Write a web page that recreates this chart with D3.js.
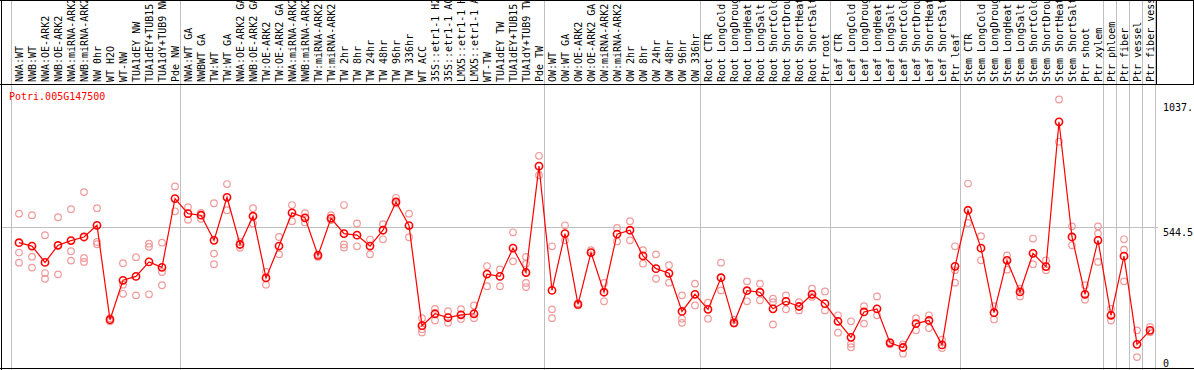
<!DOCTYPE html>
<html>
<head>
<meta charset="utf-8">
<script src="https://cdn.jsdelivr.net/npm/d3@7"></script>
<style>
  body { margin: 0; background: #fff; }
  svg { display: block; }
  text { font-family: "DejaVu Sans Mono", monospace; font-size: 10px; }
</style>
</head>
<body>
<svg id="chart" width="1194" height="370"></svg>
<script>
// sample labels, left to right
const categories = [
  "NWA:WT", "NWB:WT", "NWA:OE-ARK2", "NWB:OE-ARK2", "NWA:miRNA-ARK2", "NWB:miRNA-ARK2",
  "NW 0hr", "WT H2O", "WT-NW", "TUA1dEY NW", "TUA1dEY+TUB15 NW", "TUA1dY+TUB9 NW", "Pde NW",
  "NWA:WT GA", "NWBWT GA", "TW:WT", "TW:WT GA", "NWA:OE-ARK2 GA", "NWB:OE-ARK2 GA",
  "TW:OE-ARK2", "TW:OE-ARK2 GA", "NWA:miRNA-ARK2", "NWB:miRNA-ARK2", "TW:miRNA-ARK2",
  "TW:miRNA-ARK2", "TW 2hr", "TW 8hr", "TW 24hr", "TW 48hr", "TW 96hr", "TW 336hr",
  "WT ACC", "35S::etr1-1 H2O", "35S::etr1-1 ACC", "LMX5::etr1-1 H2O", "LMX5::etr1-1 ACC",
  "WT-TW", "TUA1dEY TW", "TUA1dEY+TUB15 TW", "TUA1dY+TUB9 TW", "Pde TW",
  "OW:WT", "OW:WT GA", "OW:OE-ARK2", "OW:OE-ARK2 GA", "OW:miRNA-ARK2", "OW:miRNA-ARK2",
  "OW 2hr", "OW 8hr", "OW 24hr", "OW 48hr", "OW 96hr", "OW 336hr",
  "Root CTR", "Root LongCold", "Root LongDrought", "Root LongHeat", "Root LongSalt",
  "Root ShortCold", "Root ShortDrought", "Root ShortHeat", "Root ShortSalt", "Ptr root",
  "Leaf CTR", "Leaf LongCold", "Leaf LongDrought", "Leaf LongHeat", "Leaf LongSalt",
  "Leaf ShortCold", "Leaf ShortDrought", "Leaf ShortHeat", "Leaf ShortSalt", "Ptr leaf",
  "Stem CTR", "Stem LongCold", "Stem LongDrought", "Stem LongHeat", "Stem LongSalt",
  "Stem ShortCold", "Stem ShortDrought", "Stem ShortHeat", "Stem ShortSalt", "Ptr shoot",
  "Ptr xylem", "Ptr phloem", "Ptr fiber", "Ptr vessel", "Ptr fiber vessel"
];

// index of the first sample of each experiment group (last = end)
const groupStarts = [0, 13, 41, 53, 63, 73, 84, 85, 86, 87, 88];

// mean expression per sample
const means = [
  485, 472, 409, 475, 493, 507, 552, 188, 340, 355, 411, 390, 655,
  597, 591, 494, 660, 478, 587, 349, 472, 600, 581, 436, 579, 520, 514, 472, 533, 642,
  551, 165, 211, 196, 207, 211, 364, 355, 464, 370, 780,
  301, 520, 247, 447, 294, 518, 533, 434, 385, 367, 220,
  286, 228, 350, 176, 300, 294, 230, 259, 239, 286,
  250, 182, 120, 218, 230, 99, 81, 173, 185, 91,
  394, 610, 464, 215, 417, 295, 444, 393, 951, 507, 286,
  494, 205, 433, 93, 147
];

// replicate values per sample
const replicates = [
  [597, 447, 408], [591, 431, 389], [514, 368, 346], [583, 475, 363], [614, 452, 416],
  [680, 426, 411], [618, 488, 479], [194, 182], [406, 323, 288], [429, 282],
  [481, 469, 286], [485, 372, 321], [702, 606],
  [622, 573], [600, 577], [637, 443, 402], [711, 610], [488, 465], [618, 559],
  [372, 323], [507, 440], [630, 568], [599, 563], [440, 430], [591, 572],
  [630, 478, 466], [559, 471], [497, 440], [556, 498], [658, 636], [597, 506],
  [194, 151, 139], [230, 185], [221, 176], [229, 191], [243, 194],
  [395, 317], [382, 317], [525, 413], [430, 404, 330, 314], [820, 745],
  [471, 228, 194], [552, 494], [252, 243], [456], [330, 259], [542, 490],
  [568, 494], [456, 404], [440, 346], [398, 331], [282, 192, 176],
  [327, 243], [254, 192], [408, 301], [188, 173], [336, 259],
  [327, 263], [269, 256, 170], [282, 228], [256, 224], [308, 276],
  [297, 224], [205, 138], [182, 95, 82], [240, 173], [278, 205],
  [102, 93], [93, 57], [194, 147], [205, 156], [111, 79],
  [471, 379, 331], [713, 561], [510, 417], [240, 189], [436, 381], [308, 278],
  [501, 402], [417, 379], [1037, 874], [548, 475], [321, 265],
  [548, 520, 411], [230, 185], [498, 458, 336], [147, 44], [160, 140]
];

const geneName = "Potri.005G147500";
const dataMax = 1037.14;
const tickValues = [0, 544.5, dataMax];
const tickLabels = ["0", "544.5", "1037."];

const W = 1194, H = 370;
const labelBottom = 84.5, plotBottom = 368.5;
const colW = 13, left = 11;

const svg = d3.select("#chart");

const x = d3.scaleLinear().domain([0, categories.length]).range([left, left + colW * categories.length]);
const cx = i => x(i) + 8;
const y = d3.scaleLinear().domain([0, dataMax * 1.05]).range([plotBottom, 86]);

// group separators
svg.append("g")
  .selectAll("line")
  .data(groupStarts)
  .join("line")
  .attr("x1", d => Math.round(x(d)) + 0.5)
  .attr("x2", d => Math.round(x(d)) + 0.5)
  .attr("y1", 0)
  .attr("y2", H)
  .attr("stroke", "#c0c0c0");

// middle gridline
svg.append("line")
  .attr("x1", 1).attr("x2", 1158)
  .attr("y1", Math.round(y(544.5)) + 0.5).attr("y2", Math.round(y(544.5)) + 0.5)
  .attr("stroke", "#c0c0c0");

// frame
const frame = svg.append("g").attr("stroke", "#000").attr("shape-rendering", "crispEdges");
frame.append("line").attr("x1", 0).attr("x2", W).attr("y1", 0.5).attr("y2", 0.5);
frame.append("line").attr("x1", 0).attr("x2", W).attr("y1", labelBottom).attr("y2", labelBottom);
frame.append("line").attr("x1", 0).attr("x2", W).attr("y1", plotBottom).attr("y2", plotBottom);
frame.append("line").attr("x1", 1.5).attr("x2", 1.5).attr("y1", 0).attr("y2", H);
frame.append("line").attr("x1", 1156.5).attr("x2", 1156.5).attr("y1", 0).attr("y2", labelBottom);
frame.append("line").attr("x1", 1193.5).attr("x2", 1193.5).attr("y1", 0).attr("y2", labelBottom);

// sample labels
svg.append("g")
  .selectAll("text")
  .data(categories)
  .join("text")
  .attr("transform", (d, i) => `translate(${cx(i)},82) rotate(-90)`)
  .attr("dy", "0.35em")
  .attr("fill", "#000")
  .text(d => d);

// gene name
svg.append("text")
  .attr("x", 9).attr("y", 100)
  .attr("fill", "#f00")
  .text(geneName);

// right axis labels
svg.append("g")
  .selectAll("text")
  .data(tickValues)
  .join("text")
  .attr("x", 1163)
  .attr("y", d => y(d) + (d === 0 ? -2 : d > 600 ? 12 : 9))
  .attr("fill", "#000")
  .text((d, i) => tickLabels[i]);

// replicate points
const repPts = replicates.flatMap((r, i) => r.map(v => ({ i, v })));
svg.append("g")
  .selectAll("circle")
  .data(repPts)
  .join("circle")
  .attr("cx", d => cx(d.i))
  .attr("cy", d => y(d.v))
  .attr("r", 3.3)
  .attr("fill", "none")
  .attr("stroke", "#f09a9a")
  .attr("stroke-width", 1.2);

// mean line
svg.append("path")
  .datum(means)
  .attr("fill", "none")
  .attr("stroke", "#f00")
  .attr("stroke-width", 1.2)
  .attr("d", d3.line().x((d, i) => cx(i)).y(d => y(d)));

// mean points
svg.append("g")
  .selectAll("circle")
  .data(means)
  .join("circle")
  .attr("cx", (d, i) => cx(i))
  .attr("cy", d => y(d))
  .attr("r", 3.6)
  .attr("fill", "none")
  .attr("stroke", "#f00")
  .attr("stroke-width", 1.6);
</script>
</body>
</html>
